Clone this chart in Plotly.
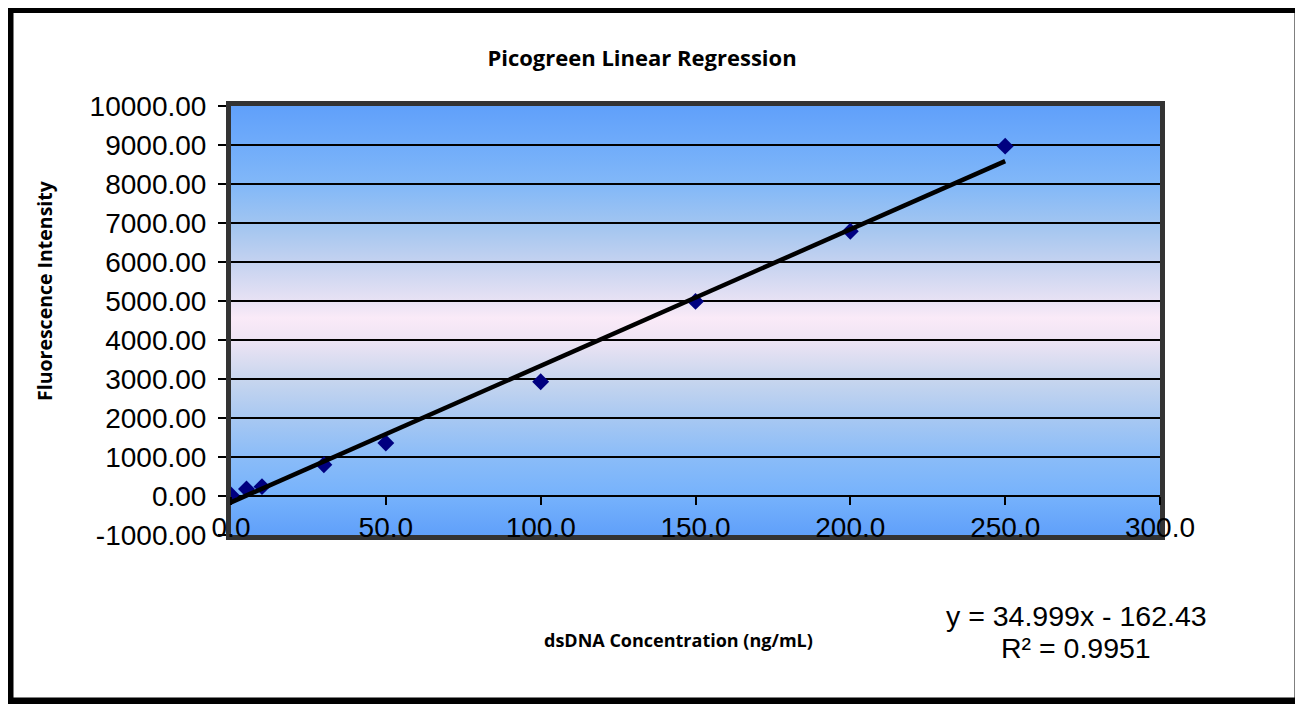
import base64
import plotly.graph_objects as go

# ---- data ----
conc = [0, 5, 10, 30, 50, 100, 150, 200, 250]
fluor = [25, 180, 240, 800, 1360, 2930, 4990, 6790, 8970]
SLOPE = 34.999
INTERCEPT = -162.43
R2 = 0.9951
x_ticks = [0, 50, 100, 150, 200, 250, 300]
y_ticks = list(range(-1000, 10001, 1000))
y_ticktext = [f'{v:.2f}' for v in y_ticks]

# the page has an 8px body margin; design in page pixels and convert
OFF = 8
W, H = 1303 - OFF, 704 - OFF
PL, PR, PT, PB = 231, 1160, 106, 535          # plot area in page pixels
ML, MT = PL - OFF, PT - OFF
MR, MB = W - (PR - OFF), H - (PB - OFF)
PW, PH = PR - PL, PB - PT


def px(x):
    return (x - PL) / PW


def py(y):
    return (PB - y) / PH


# trendline from the regression equation shown on the chart
tx = [min(conc), max(conc)]
ty = [SLOPE * v + INTERCEPT for v in tx]

# vertical gradient background (top -> bottom)
stops = [(0.0, '#60A0FA'), (0.093, '#70ACFA'), (0.184, '#82B8F8'), (0.284, '#A4C6F0'),
         (0.364, '#C4D2F0'), (0.455, '#E8E2F4'), (0.494, '#FAEAF8'), (0.545, '#EEE4F4'),
         (0.636, '#C8D6EE'), (0.727, '#A8C8F2'), (0.818, '#8ABCF8'), (0.909, '#76B2FC'),
         (1.0, '#60A0FA')]
stop_xml = ''.join(f'<stop offset="{o}" stop-color="{c}"/>' for o, c in stops)
svg = ('<svg xmlns="http://www.w3.org/2000/svg" width="10" height="100" viewBox="0 0 10 100" '
       'preserveAspectRatio="none"><defs><linearGradient id="g" x1="0" y1="0" x2="0" y2="1">'
       + stop_xml + '</linearGradient></defs><rect x="0" y="0" width="10" height="100" fill="url(#g)"/></svg>')
svg_uri = 'data:image/svg+xml;base64,' + base64.b64encode(svg.encode()).decode()

TICKFONT = dict(family='Liberation Sans, Arial, sans-serif', size=28, color='black')
EQFONT = dict(family='Liberation Sans, Arial, sans-serif', size=28.5, color='black')

fig = go.Figure()
fig.add_trace(go.Scatter(x=tx, y=ty, mode='lines', xaxis='x2', yaxis='y',
                         line=dict(color='black', width=4.5), showlegend=False,
                         hoverinfo='skip'))
fig.add_trace(go.Scatter(x=conc, y=fluor, mode='markers',
                         marker=dict(symbol='diamond', size=13, color='#000080'),
                         showlegend=False))

fig.update_layout(
    width=W, height=H,
    margin=dict(l=ML, r=MR, t=MT, b=MB),
    paper_bgcolor='white', plot_bgcolor='rgba(0,0,0,0)',
    title=dict(text='Picogreen Linear Regression', x=(642 - OFF) / W, xref='container',
               y=1 - (58 - OFF) / H, yref='container', xanchor='center', yanchor='middle',
               font=dict(family='Open Sans, sans-serif', size=22, color='black', weight='bold')),
    xaxis=dict(range=[0, 300], tickvals=x_ticks, tickformat='.1f', ticks='',
               showgrid=False, zeroline=False, showline=True, mirror=True,
               linecolor='#333333', linewidth=5, tickfont=TICKFONT,
               ticklabelstandoff=-37),
    xaxis2=dict(range=[0, 300], matches='x', overlaying='x', anchor='free',
                position=(0 - (-1000)) / 11000, tickvals=x_ticks, ticks='outside',
                ticklen=8, tickwidth=1.5, tickcolor='black', showticklabels=False,
                showgrid=False, zeroline=False, showline=False),
    yaxis=dict(range=[-1000, 10000], tickvals=y_ticks, ticktext=y_ticktext,
               ticks='outside', ticklen=8, tickwidth=1.5, tickcolor='black',
               showgrid=True, gridcolor='black', gridwidth=2,
               zeroline=True, zerolinecolor='black', zerolinewidth=2,
               showline=True, mirror=True, linecolor='#333333', linewidth=5,
               tickfont=TICKFONT, ticklabelstandoff=6),
    images=[dict(source=svg_uri, xref='paper', yref='paper', x=0, y=1, sizex=1, sizey=1,
                 xanchor='left', yanchor='top', sizing='stretch', layer='below')],
    shapes=[dict(type='rect', xref='paper', yref='paper', x0=px(10), x1=px(1298),
                 y0=py(701), y1=py(9.5), line=dict(color='black', width=7),
                 fillcolor='rgba(0,0,0,0)', layer='above')],
    annotations=[
        dict(text='Fluorescence Intensity', xref='paper', yref='paper',
             x=px(44), y=py(291), xanchor='center', yanchor='middle', textangle=-90,
             showarrow=False, font=dict(family='Open Sans, sans-serif', size=19.5,
                                        color='black', weight='bold')),
        dict(text='dsDNA Concentration (ng/mL)', xref='paper', yref='paper',
             x=px(678), y=py(640), xanchor='center', yanchor='middle',
             showarrow=False, font=dict(family='Open Sans, sans-serif', size=18,
                                        color='black', weight='bold')),
        dict(text=f'y = {SLOPE}x - {abs(INTERCEPT)}', xref='paper', yref='paper',
             x=px(1076), y=py(616), xanchor='center', yanchor='middle',
             showarrow=False, font=EQFONT),
        dict(text=f'R² = {R2}', xref='paper', yref='paper',
             x=px(1076), y=py(648), xanchor='center', yanchor='middle',
             showarrow=False, font=EQFONT),
    ],
)

fig.write_html('out.html')
